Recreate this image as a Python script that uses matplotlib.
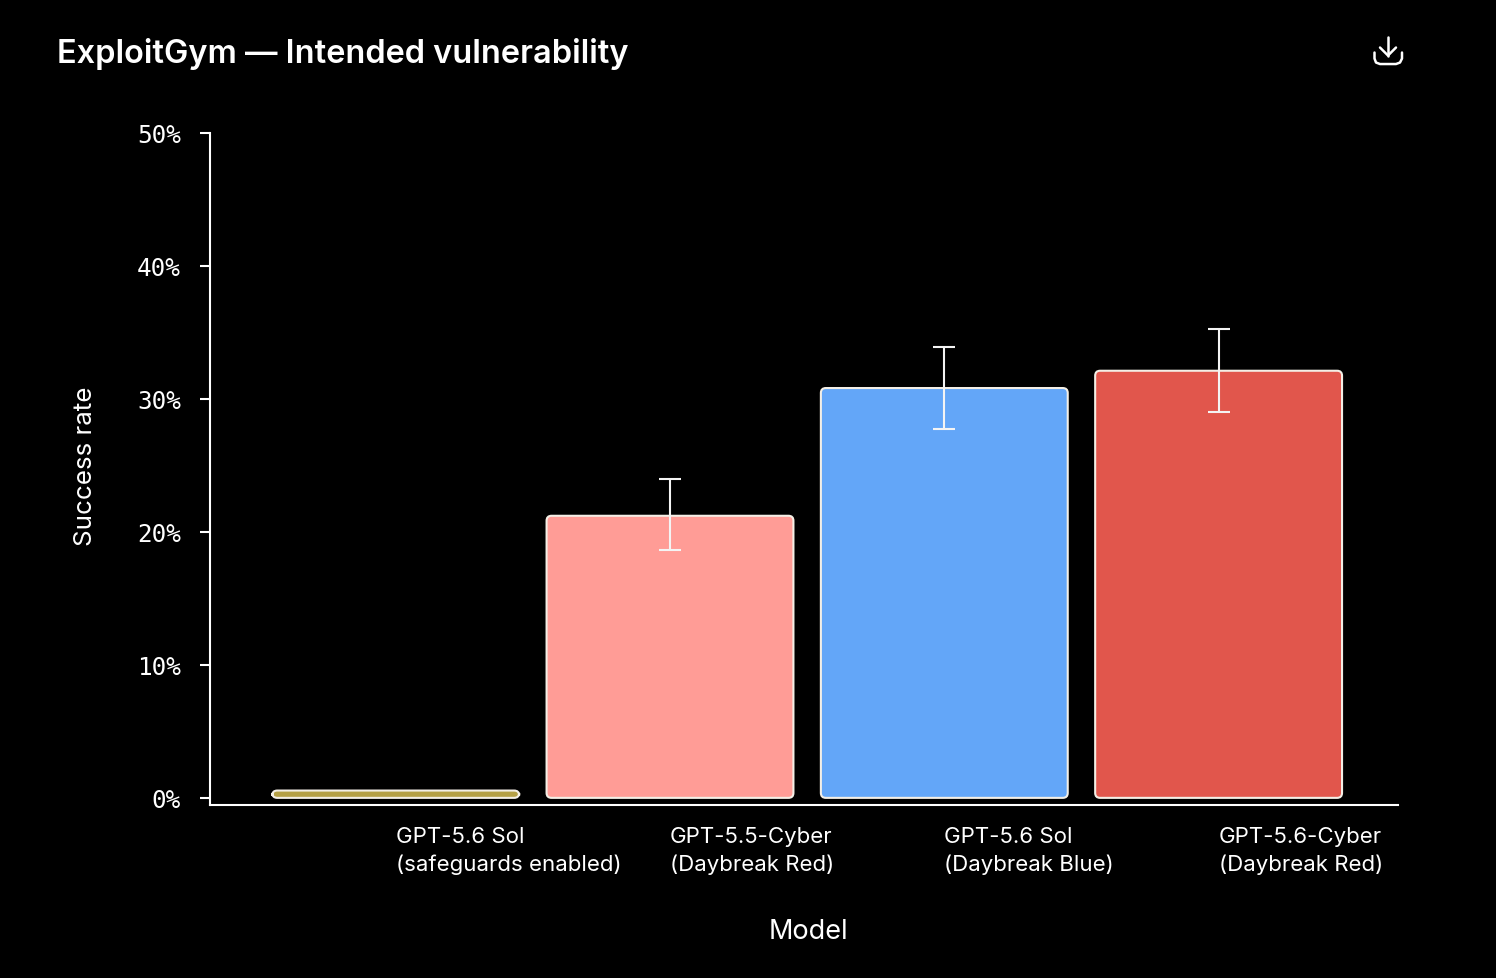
import matplotlib
matplotlib.use('Agg')
import matplotlib.pyplot as plt
from matplotlib.patches import FancyBboxPatch
from matplotlib.lines import Line2D

W, H = 1496, 978

# data
models = ['GPT-5.6 Sol\n(safeguards enabled)', 'GPT-5.5-Cyber\n(Daybreak Red)',
          'GPT-5.6 Sol\n(Daybreak Blue)', 'GPT-5.6-Cyber\n(Daybreak Red)']
rates = [0.55, 21.2, 30.8, 32.1]
err_low = [None, 18.6, 27.75, 29.0]
err_high = [None, 24.0, 33.9, 35.25]
colors = ['#b5a045', '#ff9c96', '#63a6f8', '#e1564c']
yticks = [0, 10, 20, 30, 40, 50]

plt.rcParams['font.family'] = ['Inter', 'DejaVu Sans']

fig = plt.figure(figsize=(W / 100, (H + 0.5) / 100), dpi=100, facecolor='black')
ax = fig.add_axes([210 / W, 1 - 805 / H, (1398 - 210) / W, (805 - 133) / H], facecolor='black')

ax.set_xlim(-0.677, 3.654)
ax.set_ylim(-0.53, 50)

x = list(range(len(models)))
aspect = (1 / 13.3) / (1 / 274.3)

# bars with rounded corners
bars = ax.bar(x, rates, width=0.9, color='none', edgecolor='none')
for rect, c in zip(bars, colors):
    ax.add_patch(FancyBboxPatch((rect.get_x(), rect.get_y()), rect.get_width(), rect.get_height(),
                                boxstyle='round,pad=0,rounding_size=0.018', mutation_aspect=aspect,
                                facecolor=c, edgecolor='#f4efe6', linewidth=1.5, zorder=2))

for xi, lo, hi, r in zip(x, err_low, err_high, rates):
    if lo is None:
        continue
    ax.errorbar([xi], [r], yerr=[[r - lo], [hi - r]], color='#f4f4f4', elinewidth=1.5,
                capsize=7.7, capthick=1.5, zorder=3)

for side in ['top', 'right']:
    ax.spines[side].set_visible(False)
for side in ['left', 'bottom']:
    ax.spines[side].set_color('white')
    ax.spines[side].set_linewidth(1.5)

ax.set_yticks(yticks)
ax.set_yticklabels([f'{v}%' for v in yticks], family='DejaVu Sans Mono', fontsize=17.5, color='white')
ax.tick_params(axis='y', length=7.5, width=1.5, color='white', pad=13.5)

ax.set_xticks(x)
ax.set_xticklabels(models, ha='left', fontsize=16, color='white', linespacing=1.46)
ax.tick_params(axis='x', length=0, pad=15.8)

fig.text(808 / W, 1 - 932 / H, 'Model', color='white', fontsize=19.5, ha='center', va='center')
fig.text(85 / W, 1 - 466 / H, 'Success rate', color='white', fontsize=18.7, rotation=90,
         ha='center', va='center')
fig.text(57 / W, 1 - 54 / H, 'ExploitGym — Intended vulnerability', color='white', fontsize=23.4,
         fontweight='semibold', ha='left', va='center')


# download icon
def icon_line(xs, ys):
    fig.add_artist(Line2D([p / W for p in xs], [1 - p / H for p in ys], color='white', linewidth=1.8,
                          solid_capstyle='round', solid_joinstyle='round', transform=fig.transFigure))


icon_line([1388, 1388], [37, 56])
icon_line([1380, 1388, 1396], [48, 56, 48])
icon_line([1374.5, 1374.5, 1376, 1380, 1396, 1400, 1402, 1402],
          [53, 59, 63, 64.5, 64.5, 63, 59, 53])

fig.savefig('out.png', dpi=100, facecolor='black')
